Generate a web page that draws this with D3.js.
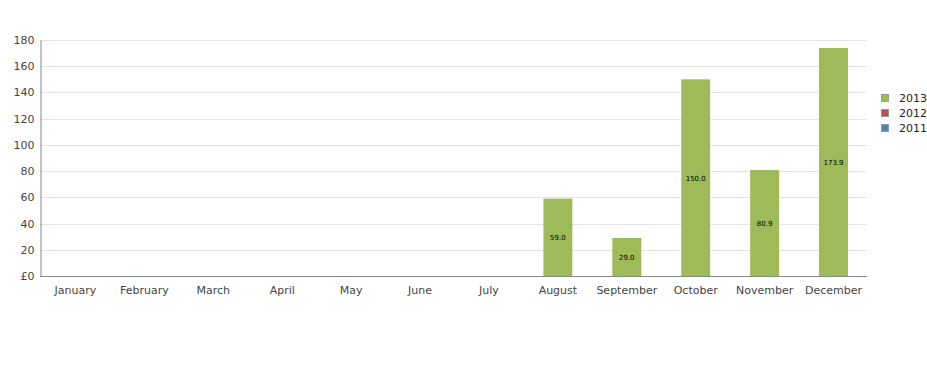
<!DOCTYPE html>
<html><head><meta charset="utf-8">
<script src="https://cdn.jsdelivr.net/npm/d3@7"></script>
<style>body{margin:0;background:#fff;} text{font-family:"DejaVu Sans",sans-serif;}</style>
</head><body>
<svg id="c" width="927" height="368"></svg>
<script>
const categories = ["January","February","March","April","May","June","July","August","September","October","November","December"];
const series = ["2013","2012","2011"];
const values2013 = [0,0,0,0,0,0,0,59.0,29.0,150.0,80.9,173.9];
const values2012 = [0,0,0,0,0,0,0,0,0,0,0,0];
const values2011 = [0,0,0,0,0,0,0,0,0,0,0,0];
const yTicks = [0,20,40,60,80,100,120,140,160,180];
const colors = ["#9DBB59","#C0504D","#4F81BD"];

const svg = d3.select("#c");
const L=40, R=867, T=40, B=276;
const x = d3.scaleBand().domain(categories).range([L+1,R+1]).paddingInner(0.58).paddingOuter(0.29);
const y = d3.scaleLinear().domain([0,180]).range([B,T]);

// gridlines
svg.append("g").selectAll("line").data(yTicks.filter(d=>d>0)).join("line")
  .attr("x1",L).attr("x2",R).attr("y1",d=>Math.round(y(d))+0.5).attr("y2",d=>Math.round(y(d))+0.5)
  .attr("stroke","#e3e3e3").attr("stroke-width",1);

// bars (stacked)
const rows = categories.map((c,i)=>({cat:c,"2013":values2013[i],"2012":values2012[i],"2011":values2011[i]}));
const stack = d3.stack().keys(series)(rows);
stack.forEach((s,si)=>{
  svg.append("g").selectAll("rect").data(s.filter(d=>d[1]-d[0]>0)).join("rect")
    .attr("x",d=>x(d.data.cat)).attr("width",x.bandwidth())
    .attr("y",d=>y(d[1])).attr("height",d=>y(d[0])-y(d[1]))
    .attr("fill",colors[si]);
  svg.append("g").selectAll("text").data(s.filter(d=>d[1]-d[0]>0)).join("text")
    .attr("x",d=>x(d.data.cat)+x.bandwidth()/2).attr("y",d=>(y(d[0])+y(d[1]))/2+3)
    .attr("text-anchor","middle").attr("font-size","7px").attr("fill","#000")
    .text(d=>(d[1]-d[0]).toFixed(1));
});

// axes
const yAxis = svg.append("g").attr("transform",`translate(${L+0.5},0)`)
  .call(d3.axisLeft(y).tickValues(yTicks).tickSize(0).tickPadding(6).tickFormat(d=>d===0?"£0":d));
yAxis.select(".domain").attr("stroke","#888");
yAxis.selectAll("text").attr("font-size","11px").attr("fill","#444").attr("font-family","DejaVu Sans");

const xAxis = svg.append("g").attr("transform",`translate(0,${B+0.5})`)
  .call(d3.axisBottom(x).tickSize(0).tickPadding(10).tickSizeOuter(0));
xAxis.select(".domain").attr("stroke","#888").attr("d",`M${L},0H${R}`);
xAxis.selectAll("text").attr("font-size","11px").attr("fill","#444").attr("font-family","DejaVu Sans");

// legend
const lg = svg.append("g");
series.forEach((s,i)=>{
  lg.append("rect").attr("x",881.5).attr("y",94.5+i*15).attr("width",7).attr("height",7)
    .attr("fill",colors[i]).attr("stroke","#999").attr("stroke-width",1);
  lg.append("text").attr("x",899).attr("y",102+i*15).attr("font-size","11px").attr("fill","#222").text(s);
});
</script>
</body></html>
